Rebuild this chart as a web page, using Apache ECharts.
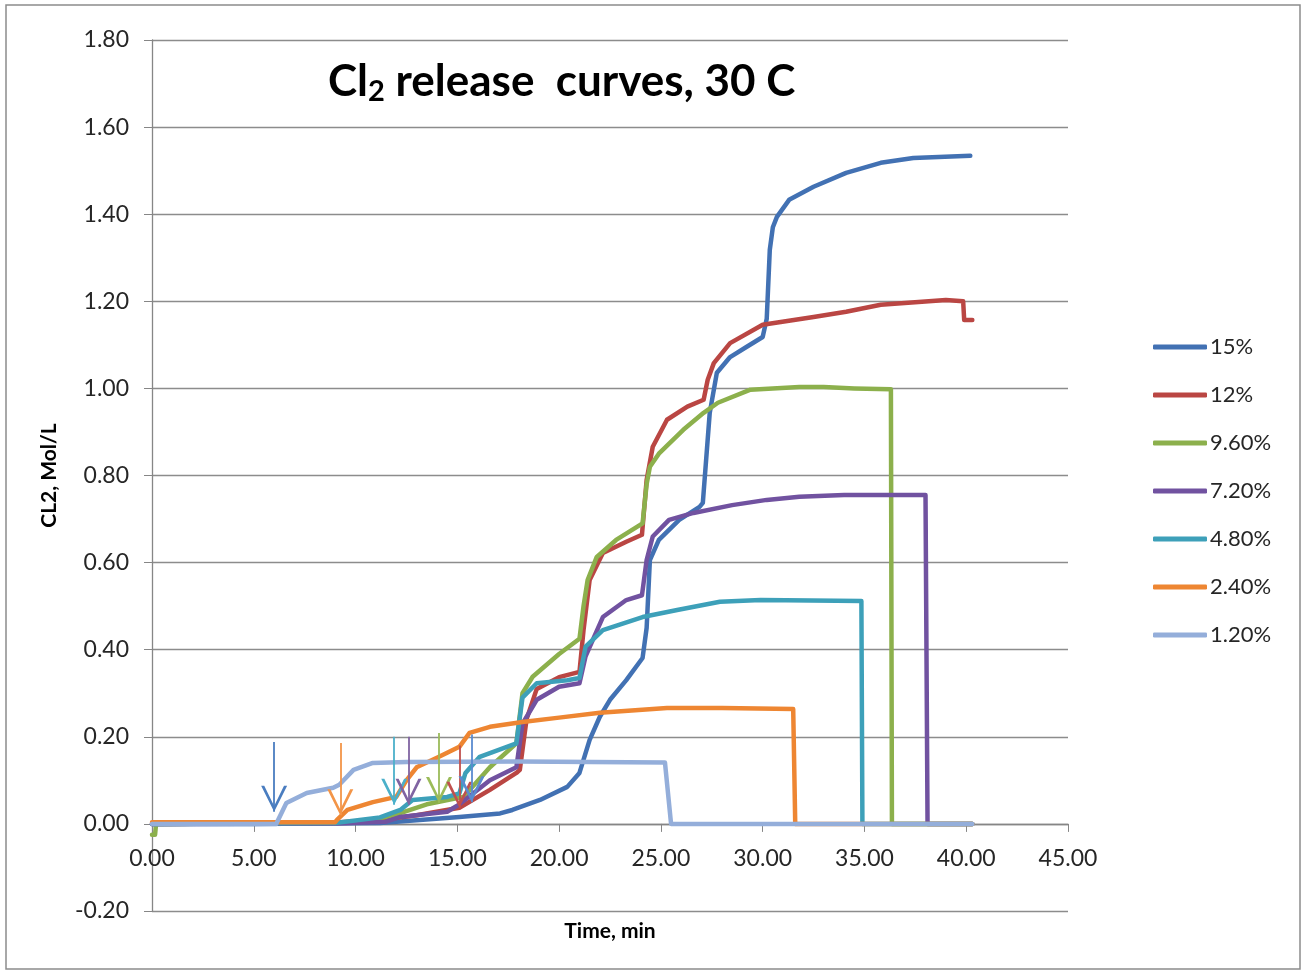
<!DOCTYPE html>
<html>
<head>
<meta charset="utf-8">
<title>Cl2 release curves</title>
<script src="https://cdn.jsdelivr.net/npm/echarts@6/dist/echarts.min.js"></script>
<style>
  html, body { margin: 0; padding: 0; background: #fff; }
  #main { width: 1307px; height: 975px; }
</style>
</head>
<body>
<div id="main"></div>
<script type="text/javascript">
// series names (legend order)
var names = ['15%', '12%', '9.60%', '7.20%', '4.80%', '2.40%', '1.20%'];

// [time (min), CL2 (mol/L)]
var s15 = [[0,0],[5,0],[8,0.001],[11.2,0.002],[15.1,0.016],[17.1,0.024],[17.7,0.032],[19.06,0.055],[20.4,0.085],[21.0,0.117],
  [21.5,0.193],[22.0,0.246],[22.5,0.285],[23.3,0.33],[24.1,0.381],[24.3,0.45],[24.46,0.606],[24.9,0.652],[25.9,0.698],
  [26.9,0.728],[27.06,0.737],[27.4,0.944],[27.75,1.036],[28.4,1.072],[29.2,1.095],[30.0,1.118],[30.2,1.16],[30.35,1.318],
  [30.5,1.37],[30.7,1.394],[31.3,1.433],[32.5,1.463],[34.1,1.495],[35.8,1.518],[37.4,1.529],[40.2,1.534]];
var s12 = [[0,0],[8,0.002],[9.2,0.004],[11.2,0.009],[13,0.02],[15.1,0.037],[16.6,0.078],[17.9,0.117],[18.07,0.124],
  [18.2,0.17],[18.4,0.24],[18.9,0.31],[20.0,0.337],[21.0,0.349],[21.2,0.445],[21.5,0.56],[22.15,0.622],[23.3,0.648],
  [24.07,0.664],[24.3,0.79],[24.6,0.866],[25.3,0.928],[26.3,0.958],[27.1,0.974],[27.3,1.02],[27.6,1.058],[28.4,1.104],
  [30.0,1.146],[32.5,1.164],[34.1,1.176],[35.8,1.192],[39.0,1.203],[39.85,1.2],[39.9,1.157],[40.3,1.157]];
var s96 = [[0,-0.025],[0.15,-0.025],[0.2,0],[9,0.002],[11,0.01],[12.2,0.025],[13.5,0.045],[15.3,0.062],[16.6,0.13],
  [17.9,0.185],[18.2,0.3],[18.7,0.338],[20.0,0.39],[21.0,0.425],[21.2,0.5],[21.4,0.56],[21.85,0.613],[22.8,0.652],
  [24.1,0.69],[24.3,0.78],[24.46,0.82],[24.9,0.85],[26.1,0.905],[27.1,0.944],[27.8,0.967],[29.4,0.997],[31.8,1.003],
  [33,1.003],[34.5,1.0],[36.3,0.998],[36.35,0],[40.3,0]];
var s72 = [[0,0],[9,0.001],[11.5,0.005],[12.2,0.016],[14.5,0.028],[15.1,0.045],[16.6,0.1],[17.9,0.13],[18.2,0.23],
  [18.9,0.285],[20.0,0.315],[21.0,0.323],[21.3,0.385],[22.15,0.475],[23.3,0.514],[24.07,0.525],[24.3,0.606],[24.6,0.66],
  [25.4,0.698],[26.6,0.714],[28.5,0.732],[30.2,0.744],[31.8,0.751],[34,0.755],[38.0,0.755],[38.1,0],[40.3,0]];
var s48 = [[0,0],[9,0.002],[11.2,0.015],[12.2,0.032],[12.8,0.055],[14.5,0.062],[15.1,0.07],[15.4,0.117],[16.1,0.154],
  [17.9,0.185],[18.2,0.29],[18.9,0.323],[20.4,0.33],[21.0,0.335],[21.3,0.407],[22.15,0.445],[24.1,0.475],[25.8,0.491],
  [27.9,0.51],[29.9,0.514],[34.85,0.512],[34.9,0],[40.3,0]];
var s24 = [[0,0.004],[9.0,0.004],[9.1,0.01],[9.6,0.032],[10.85,0.05],[12.0,0.062],[12.5,0.1],[13.0,0.13],[14.1,0.154],
  [15.1,0.177],[15.6,0.209],[16.6,0.223],[18.2,0.234],[20,0.244],[22.0,0.255],[25.3,0.266],[28,0.266],[31.5,0.264],
  [31.6,0],[40.3,0]];
var s1_2 = [[0,0],[6.1,0],[6.6,0.048],[7.6,0.071],[8.9,0.083],[9.2,0.09],[9.9,0.124],[10.85,0.14],[12.5,0.142],
  [18,0.143],[25.2,0.141],[25.5,0],[40.3,0]];

// hand drawn arrows: x (min), top and tip (mol/L)
var arrowX   = [6.0, 9.25, 11.9, 12.6, 14.1, 15.1, 15.7];
var arrowTop = [0.188, 0.186, 0.200, 0.200, 0.209, 0.180, 0.205];
var arrowTip = [0.028, 0.020, 0.044, 0.044, 0.048, 0.037, 0.050];

var colors = ['#4271B3', '#BA4643', '#8CB04C', '#7152A0', '#3DA0B9', '#EE8632', '#94AEDA'];
var arrowColors = ['#4A7DC0', '#F39548', '#4BB0CA', '#8064A2', '#9BBB59', '#C0504D', '#5A8BD0'];

var myChart = echarts.init(document.getElementById('main'));
var font = 'Lato, "Open Sans", sans-serif';
var allData = [s15, s12, s96, s72, s48, s24, s1_2];

var series = allData.map(function (d, i) {
    return {
        name: names[i],
        type: 'line',
        data: d,
        showSymbol: false,
        symbol: 'none',
        smooth: false,
        lineStyle: { width: 4.5, color: colors[i], join: 'round', cap: 'round' },
        itemStyle: { color: colors[i] }
    };
});

// arrows as markLine on an empty helper series
var arrowLines = arrowX.map(function (x, i) {
    return [
        { coord: [x, arrowTop[i]], lineStyle: { color: arrowColors[i], width: 1.8, type: 'solid' } },
        { coord: [x, arrowTip[i]] }
    ];
});
series.push({
    type: 'line',
    data: [],
    silent: true,
    markLine: {
        silent: true,
        symbol: ['none', 'path://M0,20 L10,0 L20,20 L17.6,20 L10,4.4 L2.4,20 Z'],
        symbolSize: 26,
        symbolOffset: [[0, 0], [0, 13]],
        label: { show: false },
        data: arrowLines
    }
});

var option = {
    animation: false,
    color: colors,
    textStyle: { fontFamily: font },
    grid: { left: 152, right: 239, top: 40, bottom: 64, outerBoundsMode: 'none', containLabel: false },
    title: {
        text: '{m|Cl}{s|2}{m| release  curves, 30 C}',
        left: 323,
        top: 52,
        textStyle: {
            rich: {
                m: { fontFamily: font, fontWeight: 'bold', fontSize: 44, color: '#000' },
                s: { fontFamily: font, fontWeight: 'bold', fontSize: 29, color: '#000', padding: [20, 0, 0, 0] }
            }
        }
    },
    legend: {
        orient: 'vertical',
        left: 1148,
        top: 331,
        itemWidth: 54,
        itemHeight: 5,
        itemGap: 26,
        icon: 'roundRect',
        data: names,
        textStyle: { fontSize: 22, color: '#262626', fontFamily: font, padding: [0, 0, 0, -2] }
    },
    xAxis: {
        type: 'value',
        min: 0,
        max: 45,
        interval: 5,
        name: 'Time, min',
        nameLocation: 'middle',
        nameGap: 10,
        nameMoveOverlap: false,
        nameTextStyle: { fontSize: 21, fontWeight: 'bold', color: '#000', fontFamily: font },
        axisLine: { onZero: true, lineStyle: { color: '#868686', width: 1.3 } },
        axisTick: { show: true, length: 8, lineStyle: { color: '#868686' } },
        axisLabel: {
            fontSize: 23, color: '#262626', margin: -64,
            formatter: function (v) { return v.toFixed(2); }
        },
        splitLine: { show: false }
    },
    yAxis: {
        type: 'value',
        min: -0.2,
        max: 1.8,
        interval: 0.2,
        name: 'CL2, Mol/L',
        nameLocation: 'middle',
        nameGap: 92,
        nameTextStyle: { fontSize: 21, fontWeight: 'bold', color: '#000', fontFamily: font },
        axisLine: { show: true, lineStyle: { color: '#868686', width: 1.3 } },
        axisTick: { show: true, length: 8, lineStyle: { color: '#868686' } },
        axisLabel: {
            fontSize: 23, color: '#262626', margin: 23,
            formatter: function (v) { return v.toFixed(2); }
        },
        splitLine: { show: true, lineStyle: { color: '#8C8C8C', width: 1.3 } }
    },
    graphic: [{
        type: 'rect',
        shape: { x: 6, y: 5, width: 1294, height: 964 },
        style: { fill: 'none', stroke: '#8C8C8C', lineWidth: 1.5 },
        silent: true
    }],
    series: series
};

myChart.setOption(option);
</script>
</body>
</html>
